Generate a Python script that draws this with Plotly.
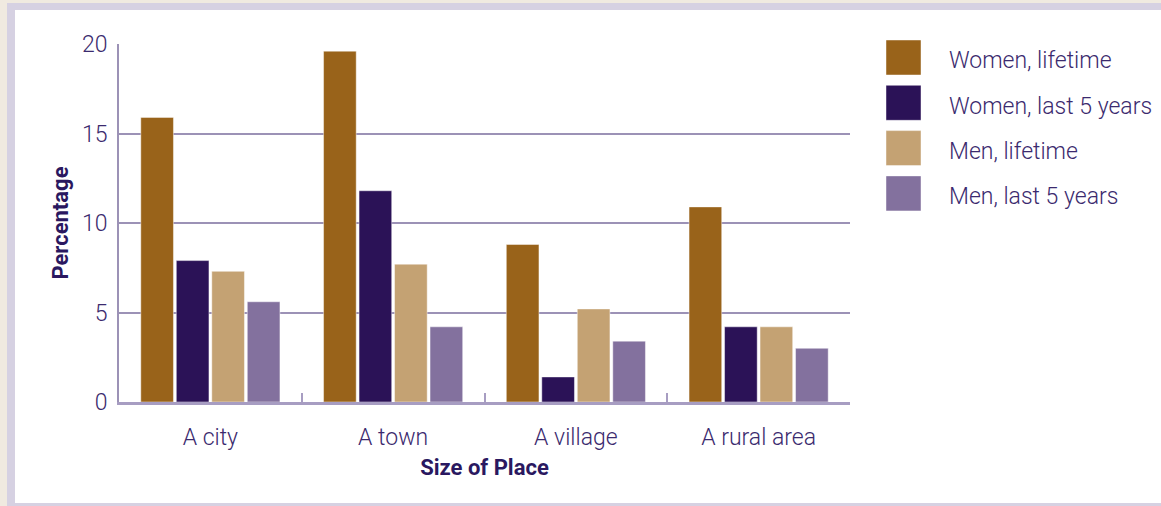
#!/usr/bin/env python3

import plotly.graph_objects as go

# data
places = ['A city', 'A town', 'A village', 'A rural area']
series_names = ['Women, lifetime', 'Women, last 5 years', 'Men, lifetime', 'Men, last 5 years']
women_lifetime = [15.9, 19.6, 8.8, 10.9]
women_last5 = [7.9, 11.8, 1.4, 4.2]
men_lifetime = [7.3, 7.7, 5.2, 4.2]
men_last5 = [5.6, 4.2, 3.4, 3.0]
y_ticks = [0, 5, 10, 15, 20]

colors = ['#99631a', '#2b1257', '#c4a273', '#83719e']
text_color = '#3b2a6e'
title_color = '#2a1860'
grid_color = '#9c92b6'
frame_color = '#d6d1e2'
edge_color = '#f0eae0'

W, H = 1161, 506
L, R, T, B = 119, 311, 44, 104
PW, PH = W - L - R, H - T - B


def px(x):
    return (x - L) / PW


def py(y):
    return 1 - (y - T) / PH


def main() -> None:
    fig = go.Figure()
    values = [women_lifetime, women_last5, men_lifetime, men_last5]
    for name, vals, color in zip(series_names, values, colors):
        fig.add_trace(go.Bar(
            x=places, y=vals, name=name,
            marker=dict(color=color, line=dict(color='rgba(255,255,255,0.45)', width=1)),
        ))

    # page frame: lavender border strips with a beige outer edge
    frame = [
        (frame_color, 0, 0, W, 10),
        (frame_color, 0, 0, 15, H),
        (frame_color, 0, 503, W, H),
        (edge_color, 0, 0, W, 3),
        (edge_color, 0, 0, 7, H),
    ]
    for color, x0, y0, x1, y1 in frame:
        fig.add_shape(type='rect', xref='paper', yref='paper', layer='below',
                      x0=px(x0), x1=px(x1), y0=py(y0), y1=py(y1),
                      fillcolor=color, line=dict(width=0))

    # legend with big square swatches
    row_y = [57.5, 102.8, 148.1, 193.4]
    for name, color, ry in zip(series_names, colors, row_y):
        fig.add_shape(type='rect', xref='paper', yref='paper',
                      x0=px(886), x1=px(921), y0=py(ry - 17.5), y1=py(ry + 17.5),
                      fillcolor=color, line=dict(color='rgba(255,255,255,0.45)', width=1))
        fig.add_annotation(x=px(947), y=py(ry + 3.5), xref='paper', yref='paper',
                           text=name, showarrow=False, xanchor='left', yanchor='middle',
                           font=dict(family='Roboto', size=23, color=text_color, weight=300))

    fig.update_xaxes(
        showline=True, linecolor='#a79dc2', linewidth=3,
        ticks='inside', tickson='boundaries', ticklen=9, tickwidth=2, tickcolor='#a79dc2',
        tickfont=dict(family='Roboto', size=23, color=text_color, weight=300),
        ticklabelstandoff=12,
        title=dict(text='Size of Place', standoff=11,
                   font=dict(family='Roboto', size=22, color=title_color, weight='bold')),
    )
    fig.update_yaxes(
        range=[0, 20], tickvals=y_ticks,
        showline=True, linecolor=grid_color, linewidth=2,
        showgrid=True, gridcolor=grid_color, gridwidth=2, zeroline=False,
        tickfont=dict(family='Roboto', size=23, color=text_color, weight=300),
        ticklabelstandoff=5,
        title=dict(text='Percentage', standoff=7,
                   font=dict(family='Roboto', size=22, color=title_color, weight='bold')),
    )
    fig.update_layout(
        width=W, height=H,
        margin=dict(l=L, r=R, t=T, b=B, pad=0),
        paper_bgcolor='#ffffff',
        plot_bgcolor='rgba(0,0,0,0)',
        barmode='group', bargap=0.223, bargroupgap=0.08,
        showlegend=False,
    )
    # drop the default body margin so the figure sits at the window corner
    fig.write_html('out.html', config={'displayModeBar': False},
                   post_script="document.body.style.margin='0';")


if __name__ == '__main__':
    main()
